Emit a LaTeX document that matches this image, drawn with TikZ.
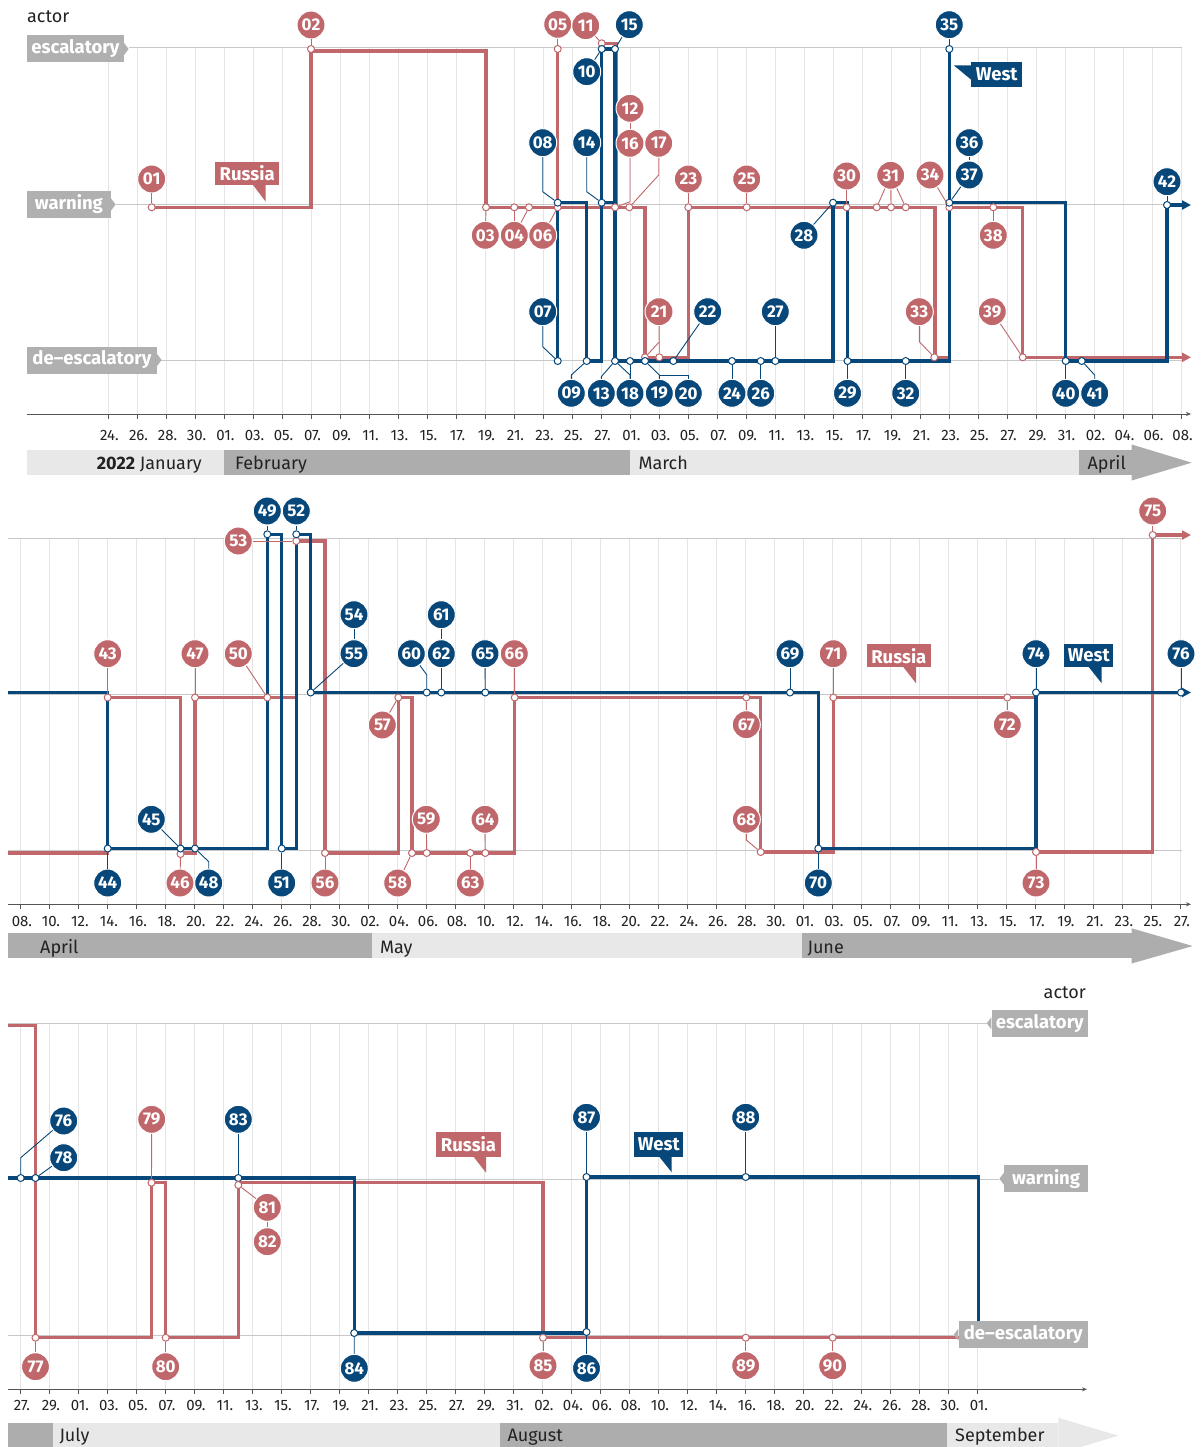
\documentclass[tikz,border=0pt]{standalone}
\usepackage{fontspec}
\setmainfont{Fira Sans}
\usetikzlibrary{arrows.meta}
\definecolor{rus}{RGB}{192,103,107}
\definecolor{wes}{RGB}{7,71,121}
\definecolor{lvl}{RGB}{176,176,176}
\definecolor{gridc}{RGB}{228,228,228}
\definecolor{levc}{RGB}{200,200,200}
\definecolor{monL}{RGB}{232,232,232}
\definecolor{monD}{RGB}{173,173,173}
\definecolor{axc}{RGB}{85,85,85}
\definecolor{txt}{RGB}{34,34,34}
\newcommand\mkR[3]{\node[rm] (#1) at (#2,#3) {};}
\newcommand\mkB[3]{\node[bm] (#1) at (#2,#3) {};}
\newcommand\ciR[4]{\node[rc] (#1) at (#2,#3) {#4};}
\newcommand\ciB[4]{\node[bc] (#1) at (#2,#3) {#4};}
\tikzset{
 gridl/.style={draw=gridc, line width=0.8pt},
 tickm/.style={draw=axc, line width=0.8pt},
 axisl/.style={draw=axc, line width=0.8pt, -{Stealth[length=5pt,width=4pt]}},
 levl/.style={draw=levc, line width=1pt},
 ticklab/.style={font=\fontsize{15}{16}\selectfont, text=txt, inner sep=0pt, anchor=base},
 monlab/.style={font=\fontsize{18}{20}\selectfont, text=txt, inner sep=0pt, anchor=base west},
 lvlbox/.style={fill=lvl, text=white, font=\fontsize{18.5}{20}\selectfont\bfseries, minimum height=27pt, inner xsep=3pt, inner ysep=0pt},
 calR/.style={fill=rus, text=white, font=\fontsize{18.5}{20}\selectfont\bfseries, inner sep=0pt},
 calB/.style={fill=wes, text=white, font=\fontsize{18.5}{20}\selectfont\bfseries, inner sep=0pt},
 rc/.style={circle, fill=rus, draw=white, line width=1pt, minimum size=28pt, inner sep=0pt, text=white, font=\fontsize{17}{17}\selectfont\bfseries},
 bc/.style={rc, fill=wes},
 rm/.style={circle, draw=rus, fill=white, line width=1pt, minimum size=7pt, inner sep=0pt},
 bm/.style={rm, draw=wes},
 rl/.style={draw=rus, line width=0.9pt},
 bl/.style={draw=wes, line width=0.9pt},
 rstep/.style={draw=rus, line width=3.3pt},
 bstep/.style={draw=wes, line width=3.3pt},
 endarrow/.style={-{Triangle[length=9pt,width=9pt]}},
}
\begin{document}
\begin{tikzpicture}[x=1pt,y=-1pt]
\useasboundingbox (0,0) rectangle (1203,1447);
\fill[white] (0,0) rectangle (1203,1447);
% ================= grids, ticks
\foreach \k in {0,...,37} {
  \draw[gridl] ({108.3+29*\k},48) -- ({108.3+29*\k},414);
  \draw[tickm] ({108.3+29*\k},414) -- ({108.3+29*\k},419);}
\foreach \k in {0,...,40} {
  \draw[gridl] ({20.7+29*\k},538) -- ({20.7+29*\k},904.3);
  \draw[tickm] ({20.7+29*\k},904.3) -- ({20.7+29*\k},909.3);}
\foreach \k in {0,...,33} {
  \draw[gridl] ({20.7+29*\k},1023) -- ({20.7+29*\k},1389.3);
  \draw[tickm] ({20.7+29*\k},1389.3) -- ({20.7+29*\k},1394.3);}
% level lines
\draw[levl] (128.5,48) -- (1182,48);
\draw[levl] (115.5,205) -- (1182,205);
\draw[levl] (161,360) -- (1182,360);
\draw[levl] (8,538) -- (1182,538);
\draw[levl] (8,694.5) -- (1182,694.5);
\draw[levl] (8,850.5) -- (1182,850.5);
\draw[levl] (8,1023) -- (986.7,1023);
\draw[levl] (8,1179) -- (999.3,1179);
\draw[levl] (8,1335) -- (954,1335);
% axes
\draw[axisl] (27,414) -- (1191,414);
\draw[axisl] (8,904.3) -- (1191,904.3);
\draw[axisl] (8,1389.3) -- (1087,1389.3);
% tick labels
\foreach \lab [count=\k from 0] in {24,26,28,30,01,03,05,07,09,11,13,15,17,19,21,23,25,27,01,03,05,07,09,11,13,15,17,19,21,23,25,27,29,31,02,04,06,08}
  {\node[ticklab] (ta\k) at ({109.5+29*\k},440) {\lab.};}
\foreach \lab [count=\k from 0] in {08,10,12,14,16,18,20,22,24,26,28,30,02,04,06,08,10,12,14,16,18,20,22,24,26,28,30,01,03,05,07,09,11,13,15,17,19,21,23,25,27}
  {\node[ticklab] (tb\k) at ({21.9+29*\k},926) {\lab.};}
\foreach \lab [count=\k from 0] in {27,29,01,03,05,07,09,11,13,15,17,19,21,23,25,27,29,31,02,04,06,08,10,12,14,16,18,20,22,24,26,28,30,01}
  {\node[ticklab] (tc\k) at ({21.9+29*\k},1410) {\lab.};}
% month bars
\fill[monL] (27,450) rectangle (224.3,475);
\fill[monD] (224.3,450) rectangle (630,475);
\fill[monL] (630,450) rectangle (1079.3,475);
\fill[monD] (1079.3,450) rectangle (1131.7,475);
\fill[monD] (1131.7,444.5) -- (1191.7,462.7) -- (1131.7,480.5) -- cycle;
\fill[monD] (8.3,933.3) rectangle (371.7,958.3);
\fill[monL] (371.7,933.3) rectangle (801.7,958.3);
\fill[monD] (801.7,933.3) rectangle (1131.7,958.3);
\fill[monD] (1131.7,928.3) -- (1192.7,946) -- (1131.7,963.5) -- cycle;
\fill[monD] (8.3,1422.7) rectangle (52.7,1447);
\fill[monL] (52.7,1422.7) rectangle (500,1447);
\fill[monD] (500,1422.7) rectangle (947.3,1447);
\fill[monL] (947.3,1422.7) rectangle (1058.3,1447);
\fill[monL] (1058.3,1417.7) -- (1118.3,1435.7) -- (1058.3,1453.7) -- cycle;
\node[monlab] (mJan) at (96.7,469) {\textbf{2022} January};
\node[monlab] (mFeb) at (235,469) {February};
\node[monlab] (mMar) at (638.3,469) {March};
\node[monlab] (mApr) at (1087.3,469) {April};
\node[monlab] (mApr2) at (40,953) {April};
\node[monlab] (mMay) at (380,953) {May};
\node[monlab] (mJun) at (807.3,953) {June};
\node[monlab] (mJul) at (59.3,1441) {July};
\node[monlab] (mAug) at (507.3,1441) {August};
\node[monlab] (mSep) at (955,1441) {September};
% actor
\node[monlab] (act1) at (27,23) {actor};
\node[monlab, anchor=base east] (act3) at (1086,998.5) {actor};

% ================= step lines, panel 1
\draw[rstep, endarrow] (151.7,207.3) -- (311,207.3) -- (311,51) -- (486,51) -- (486,207.3) -- (645,207.3) -- (645,357.3) -- (688.3,357.3) -- (688.3,207.3) -- (935,207.3) -- (935,357.3) -- (949.3,357.3) -- (949.3,207.3) -- (1022.7,207.3) -- (1022.7,357.3) -- (1191,357.3);
\draw[rstep] (557.7,207.3) -- (557.7,49);
\draw[rstep] (601.7,207.3) -- (601.7,43.3) -- (616.7,43.3) -- (616.7,207.3);
\draw[bstep] (557.7,361) -- (557.7,202.7) -- (586.7,202.7) -- (586.7,361) -- (601.7,361) -- (601.7,49) -- (615,49) -- (615,361) -- (833,361) -- (833,202.7) -- (847.5,202.7) -- (847.5,361) -- (949.3,361) -- (949.3,49) -- (949.3,202.7) -- (1065.7,202.7) -- (1065.7,361) -- (1167,361) -- (1167,205);
\draw[bstep, endarrow] (1165.4,205) -- (1191,205);
\draw[bstep] (601.7,202.7) -- (615,202.7);
% panel 2
\draw[rstep, endarrow] (8,853) -- (107.7,853) -- (107.7,697.5) -- (180.5,697.5) -- (180.5,853) -- (195,853) -- (195,697.5) -- (296.3,697.5) -- (296.3,541) -- (325,541) -- (325,853) -- (398.3,853) -- (398.3,697.5) -- (412,697.5) -- (412,853) -- (514.7,853) -- (514.7,697.5) -- (760.7,697.5) -- (760.7,852) -- (833.3,852) -- (833.3,697.5) -- (1036,697.5) -- (1036,852) -- (1152.7,852) -- (1152.7,535) -- (1191,535);
\draw[bstep, endarrow] (8,692.5) -- (107.7,692.5) -- (107.7,848.5) -- (267.3,848.5) -- (267.3,534.3) -- (281.7,534.3) -- (281.7,848.5) -- (296.3,848.5) -- (296.3,534.3) -- (310.7,534.3) -- (310.7,692.5) -- (818.3,692.5) -- (818.3,848.5) -- (1036,848.5) -- (1036,692.5) -- (1191,692.5);
% panel 3
\draw[rstep] (8,1025.7) -- (35.5,1025.7) -- (35.5,1337.7) -- (151.5,1337.7) -- (151.5,1182.7) -- (165.7,1182.7) -- (165.7,1337.7) -- (238.3,1337.7) -- (238.3,1182.7) -- (543,1182.7) -- (543,1337.7) -- (962,1337.7);
\draw[bstep] (8,1178) -- (354.2,1178) -- (354.2,1333) -- (586.5,1333) -- (586.5,1177) -- (978.3,1177) -- (978.3,1330);

% ================= markers panel 1
\mkR{m01}{151.7}{207.3} \mkR{m02}{311}{49} \mkR{m03}{486}{207.3}
\mkR{m04a}{514.3}{207.3} \mkR{m04b}{529}{207.3} \mkR{m05}{557.7}{49}
\mkR{m06}{557.7}{207.3} \mkR{m11}{601.7}{43.3} \mkR{m12}{615}{207.3}
\mkR{m17}{629.3}{207.3} \mkR{m21a}{645}{357.3} \mkR{m21b}{659.3}{357.3}
\mkR{m23}{688.3}{207.3} \mkR{m25}{746.7}{207.3} \mkR{m30}{846.7}{207.3}
\mkR{m31a}{876.7}{207.3} \mkR{m31b}{891}{207.3} \mkR{m31c}{905.7}{207.3}
\mkR{m33}{934.3}{357.3} \mkR{m34}{949.3}{207.3} \mkR{m38}{993.3}{207.3}
\mkR{m39}{1022.7}{357.3}
\mkB{m07}{557.7}{361} \mkB{m08}{557.7}{202.7} \mkB{m09}{586.7}{361}
\mkB{m10}{601.7}{49} \mkB{m13}{615}{361} \mkB{m14}{601.7}{202.7}
\mkB{m15}{615}{49} \mkB{m18}{630}{361} \mkB{m19}{645}{361}
\mkB{m22}{673.3}{361} \mkB{m24}{732}{361} \mkB{m26}{760.7}{361}
\mkB{m27}{775.3}{361} \mkB{m28}{833}{202.7} \mkB{m29}{847.5}{361}
\mkB{m32}{905.7}{361} \mkB{m35}{949.3}{49} \mkB{m37}{949.3}{202.7}
\mkB{m40}{1065.7}{361} \mkB{m41}{1081.7}{361} \mkB{m42}{1167}{205}
% markers panel 2
\mkR{m43}{107.7}{697.5} \mkR{m46}{180.5}{854} \mkR{m47}{195}{697.5}
\mkR{m50}{267.3}{697.5} \mkR{m53}{296.3}{541} \mkR{m56}{325}{853}
\mkR{m57}{398.3}{697.5} \mkR{m58}{412}{853} \mkR{m59}{426.7}{853}
\mkR{m63}{470.3}{853} \mkR{m64}{485.3}{853} \mkR{m66}{514.7}{697.5}
\mkR{m67}{746.3}{697.5} \mkR{m68}{760.7}{852} \mkR{m71}{833.3}{697.5}
\mkR{m72}{1007.3}{697.5} \mkR{m73}{1036}{852} \mkR{m75}{1152.7}{535}
\mkB{m44}{107.7}{848.5} \mkB{m45}{180.5}{848.5} \mkB{m48}{195}{848.5}
\mkB{m49}{267.3}{534.3} \mkB{m51}{281.7}{848.5} \mkB{m52}{296.3}{534.3}
\mkB{m55}{310.7}{692.5} \mkB{m60}{426.7}{692.5} \mkB{m62}{441.3}{692.5}
\mkB{m65}{485.3}{692.5} \mkB{m69}{790}{692.5} \mkB{m70}{818.3}{848.5}
\mkB{m74}{1036}{692.5} \mkB{m76a}{1181}{692.5}
% markers panel 3
\mkB{m76b}{20.7}{1178} \mkB{m78}{35.5}{1178} \mkB{m83}{238.3}{1178}
\mkB{m84}{354.2}{1333} \mkB{m86}{586.5}{1332} \mkB{m87}{586.5}{1177}
\mkB{m88}{745.7}{1177}
\mkR{m77}{35.5}{1337.7} \mkR{m79}{151.5}{1182.7} \mkR{m80}{165.7}{1337.7}
\mkR{m81}{238.3}{1185} \mkR{m85}{543}{1337.7} \mkR{m89}{745.7}{1337.7}
\mkR{m90}{832.7}{1337.7}

% ================= event circles panel 1
\ciR{c01}{151.7}{179}{01} \ciR{c02}{311}{25}{02} \ciR{c03}{485.3}{235.3}{03}
\ciR{c04}{514.3}{235.3}{04} \ciR{c06}{542.7}{235.3}{06}
\ciR{c11}{585.7}{25.7}{11} \ciR{c05}{557.7}{24.3}{05}
\ciR{c12}{630}{108.3}{12} \ciR{c16}{630}{143.3}{16} \ciR{c17}{658.7}{143.3}{17}
\ciR{c21}{659}{311.7}{21} \ciR{c23}{688.3}{179}{23} \ciR{c25}{746.7}{179}{25}
\ciR{c30}{846.7}{176}{30} \ciR{c31}{890.7}{175.3}{31} \ciR{c33}{919.3}{311.7}{33}
\ciR{c34}{930}{175}{34} \ciR{c38}{993.3}{235.3}{38} \ciR{c39}{992.3}{311.7}{39}
\ciB{c07}{542.7}{311.7}{07} \ciB{c08}{542.7}{142.7}{08} \ciB{c09}{571.3}{393.3}{09}
\ciB{c10}{586.7}{71.7}{10} \ciB{c13}{601.3}{393.3}{13} \ciB{c14}{586.7}{142.7}{14}
\ciB{c15}{629.3}{24.7}{15} \ciB{c18}{630}{393.3}{18} \ciB{c19}{659.3}{393.3}{19}
\ciB{c20}{688.3}{393.3}{20} \ciB{c22}{707.7}{311.7}{22} \ciB{c24}{732}{393.3}{24}
\ciB{c26}{760.7}{393.3}{26} \ciB{c27}{775.3}{311.7}{27} \ciB{c28}{804}{235.3}{28}
\ciB{c29}{847.5}{393.3}{29} \ciB{c32}{905.7}{393.3}{32} \ciB{c35}{949.3}{24.7}{35}
\ciB{c36}{969.3}{142.7}{36} \ciB{c37}{969.3}{175}{37} \ciB{c40}{1065.7}{393.3}{40}
\ciB{c41}{1094.7}{393.3}{41} \ciB{c42}{1167}{181.7}{42}
% panel 2
\ciR{c43}{107.7}{653.7}{43} \ciR{c46}{180}{883}{46} \ciR{c47}{195}{653.7}{47}
\ciR{c50}{238.3}{653.7}{50} \ciR{c53}{238.3}{541}{53} \ciR{c56}{325}{883}{56}
\ciR{c57}{382.3}{725}{57} \ciR{c58}{397.7}{883}{58} \ciR{c59}{426.3}{819.3}{59}
\ciR{c63}{470.3}{883}{63} \ciR{c64}{485}{819.3}{64} \ciR{c66}{514.3}{653.7}{66}
\ciR{c67}{746.3}{724.7}{67} \ciR{c68}{746.3}{819.3}{68} \ciR{c71}{833.3}{653.7}{71}
\ciR{c72}{1007.3}{724.7}{72} \ciR{c73}{1036}{883}{73} \ciR{c75}{1152.7}{511}{75}
\ciB{c44}{107.7}{883}{44} \ciB{c45}{151.3}{819.3}{45} \ciB{c48}{208.7}{883}{48}
\ciB{c49}{267.3}{511}{49} \ciB{c51}{281.7}{883}{51} \ciB{c52}{296.3}{511}{52}
\ciB{c54}{354}{614.7}{54} \ciB{c55}{354}{653.7}{55} \ciB{c60}{411.3}{653.7}{60}
\ciB{c61}{441.3}{614.7}{61} \ciB{c62}{441.3}{653.7}{62} \ciB{c65}{485}{653.7}{65}
\ciB{c69}{790}{653.7}{69} \ciB{c70}{818.3}{883}{70} \ciB{c74}{1036}{653.7}{74}
\ciB{c76a}{1181}{653.7}{76}
% panel 3
\ciB{c76b}{63.7}{1121}{76} \ciB{c78}{63.7}{1157.7}{78} \ciB{c83}{238.3}{1119.3}{83}
\ciB{c84}{354.3}{1368.3}{84} \ciB{c86}{586.5}{1368.3}{86} \ciB{c87}{586.5}{1117.3}{87}
\ciB{c88}{745.7}{1117.3}{88}
\ciR{c77}{35.5}{1366.7}{77} \ciR{c79}{151.7}{1119.3}{79} \ciR{c80}{165.7}{1366.7}{80}
\ciR{c81}{267.3}{1207.3}{81} \ciR{c82}{267.3}{1241.7}{82} \ciR{c85}{543}{1365.7}{85}
\ciR{c89}{745.7}{1365.7}{89} \ciR{c90}{832.7}{1365.7}{90}

% ================= leaders panel 1
\draw[rl] (c01) -- (m01); \draw[rl] (c02) -- (m02); \draw[rl] (c03) -- (m03);
\draw[rl] (c04) -- (m04a); \draw[rl] (c04) -- (m04b);
\draw[rl] (c05) -- (m05); \draw[rl] (c06) -- (m06); \draw[rl] (c11) -- (m11);
\draw[rl] (c12) -- (c16);
\draw[rl] (c16.south) -- (630,201.7) -- (m12);
\draw[rl] (c17.south) -- (658.7,175) -- (m17);
\draw[rl] (c21) -- (m21b); \draw[rl] (659.2,342) -- (m21a);
\draw[rl] (c23) -- (m23); \draw[rl] (c25) -- (m25); \draw[rl] (c30) -- (m30);
\draw[rl] (c31) -- (m31a); \draw[rl] (c31) -- (m31b); \draw[rl] (c31) -- (m31c);
\draw[rl] (c33.south) -- (919.3,341.7) -- (m33);
\draw[rl] (c34) -- (m34); \draw[rl] (c38) -- (m38); \draw[rl] (c39) -- (m39);
\draw[bl] (c07.south) -- (542.7,346.7) -- (m07);
\draw[bl] (c08.south) -- (542.7,191.7) -- (m08);
\draw[bl] (c09.north) -- (571.3,375) -- (m09);
\draw[bl] (c10) -- (m10);
\draw[bl] (c13.north) -- (601.3,376.7) -- (m13);
\draw[bl] (c14.south) -- (586.7,191.7) -- (m14);
\draw[bl] (c15) -- (m15);
\draw[bl] (m13) -- (630,375) -- (c18.north); \draw[bl] (m18) -- (c18);
\draw[bl] (m19) -- (659.3,375) -- (c19.north);
\draw[bl] (659.3,375) -- (688.3,375) -- (c20.north);
\draw[bl] (c22) -- (m22); \draw[bl] (c24) -- (m24); \draw[bl] (c26) -- (m26);
\draw[bl] (c27) -- (m27); \draw[bl] (c28) -- (m28); \draw[bl] (c29) -- (m29);
\draw[bl] (c32) -- (m32); \draw[bl] (c35) -- (m35); \draw[bl] (c36) -- (c37);
\draw[bl] (c37) -- (m37); \draw[bl] (c40) -- (m40);
\draw[bl] (c41.north) -- (1094.7,375) -- (m41); \draw[bl] (c42) -- (m42);
% panel 2
\draw[rl] (c43) -- (m43); \draw[rl] (c46) -- (m46); \draw[rl] (c47) -- (m47);
\draw[rl] (c50) -- (m50); \draw[rl] (c53) -- (m53); \draw[rl] (c56) -- (m56);
\draw[rl] (c57) -- (m57); \draw[rl] (c58) -- (m58); \draw[rl] (c59) -- (m59);
\draw[rl] (c63) -- (m63); \draw[rl] (c64) -- (m64); \draw[rl] (c66) -- (m66);
\draw[rl] (c67) -- (m67); \draw[rl] (c68.south) -- (746.3,840) -- (m68);
\draw[rl] (c71) -- (m71); \draw[rl] (c72) -- (m72); \draw[rl] (c73) -- (m73);
\draw[rl] (c75) -- (m75);
\draw[bl] (c44) -- (m44); \draw[bl] (c45) -- (m45);
\draw[bl] (c48.north) -- (208.7,861.7) -- (m48);
\draw[bl] (c49) -- (m49); \draw[bl] (c51) -- (m51); \draw[bl] (c52) -- (m52);
\draw[bl] (c54) -- (c55); \draw[bl] (c55) -- (m55);
\draw[bl] (c60) -- (426.7,674.7) -- (m60);
\draw[bl] (c61) -- (c62); \draw[bl] (c62) -- (m62); \draw[bl] (c65) -- (m65);
\draw[bl] (c69) -- (m69); \draw[bl] (c70) -- (m70); \draw[bl] (c74) -- (m74);
\draw[bl] (c76a) -- (m76a);
% panel 3
\draw[bl] (c76b) -- (20.7,1157.7) -- (m76b); \draw[bl] (c78) -- (m78);
\draw[bl] (c83) -- (m83); \draw[bl] (c84) -- (m84); \draw[bl] (c86) -- (m86);
\draw[bl] (c87) -- (m87); \draw[bl] (c88) -- (m88);
\draw[rl] (c77) -- (m77); \draw[rl] (c79) -- (m79); \draw[rl] (c80) -- (m80);
\draw[rl] (c81) -- (m81); \draw[rl] (c81) -- (c82); \draw[rl] (c85) -- (m85);
\draw[rl] (c89) -- (m89); \draw[rl] (c90) -- (m90);

% ================= level labels
\node[lvlbox, anchor=west, minimum width=97pt] (lE1) at (26.7,49) {escalatory};
\fill[lvl] (lE1.east) ++(0,-6) -- ++(4.5,6) -- ++(-4.5,6) -- cycle;
\node[lvlbox, anchor=west, minimum width=84pt] (lW1) at (26.7,204.5) {warning};
\fill[lvl] (lW1.east) ++(0,-6) -- ++(4.5,6) -- ++(-4.5,6) -- cycle;
\node[lvlbox, anchor=west, minimum width=130pt] (lD1) at (26.7,360) {de–escalatory};
\fill[lvl] (lD1.east) ++(0,-6) -- ++(4.5,6) -- ++(-4.5,6) -- cycle;
\node[lvlbox, anchor=east, minimum width=96.6pt] (lE3) at (1088.3,1023.3) {escalatory};
\fill[lvl] (lE3.west) ++(0,-6) -- ++(-4.5,6) -- ++(4.5,6) -- cycle;
\node[lvlbox, anchor=east, minimum width=84pt] (lW3) at (1088.3,1178.7) {warning};
\fill[lvl] (lW3.west) ++(0,-6) -- ++(-4.5,6) -- ++(4.5,6) -- cycle;
\node[lvlbox, anchor=east, minimum width=129.6pt] (lD3) at (1088.3,1334.7) {de–escalatory};
\fill[lvl] (lD3.west) ++(0,-6) -- ++(-4.5,6) -- ++(4.5,6) -- cycle;

% ================= callouts
\node[calR, minimum width=64.3pt, minimum height=23.3pt] (rusA) at (247.2,173.3) {Russia};
\fill[rus] (252.7,184.5) -- (265.7,184.5) -- (265.7,201.7) -- cycle;
\node[calB, minimum width=51.3pt, minimum height=24.4pt] (wesA) at (996.7,74.5) {West};
\fill[wes] (954,65.5) -- (971.5,65.5) -- (971.5,80) -- cycle;
\node[calR, minimum width=64.3pt, minimum height=23.3pt] (rusB) at (898.8,655.7) {Russia};
\fill[rus] (903.3,667) -- (916,667) -- (916,683.3) -- cycle;
\node[calB, minimum width=49pt, minimum height=23.3pt] (wesB) at (1088.8,655.7) {West};
\fill[wes] (1088.7,667) -- (1101.7,667) -- (1101.7,683.3) -- cycle;
\node[calR, minimum width=65pt, minimum height=24.4pt] (rusC) at (468.5,1144.5) {Russia};
\fill[rus] (473.3,1156.4) -- (486,1156.4) -- (486,1172.7) -- cycle;
\node[calB, minimum width=49pt, minimum height=24.4pt] (wesC) at (658.8,1144.5) {West};
\fill[wes] (659,1156.4) -- (671.7,1156.4) -- (671.7,1172.3) -- cycle;
\end{tikzpicture}
\end{document}
